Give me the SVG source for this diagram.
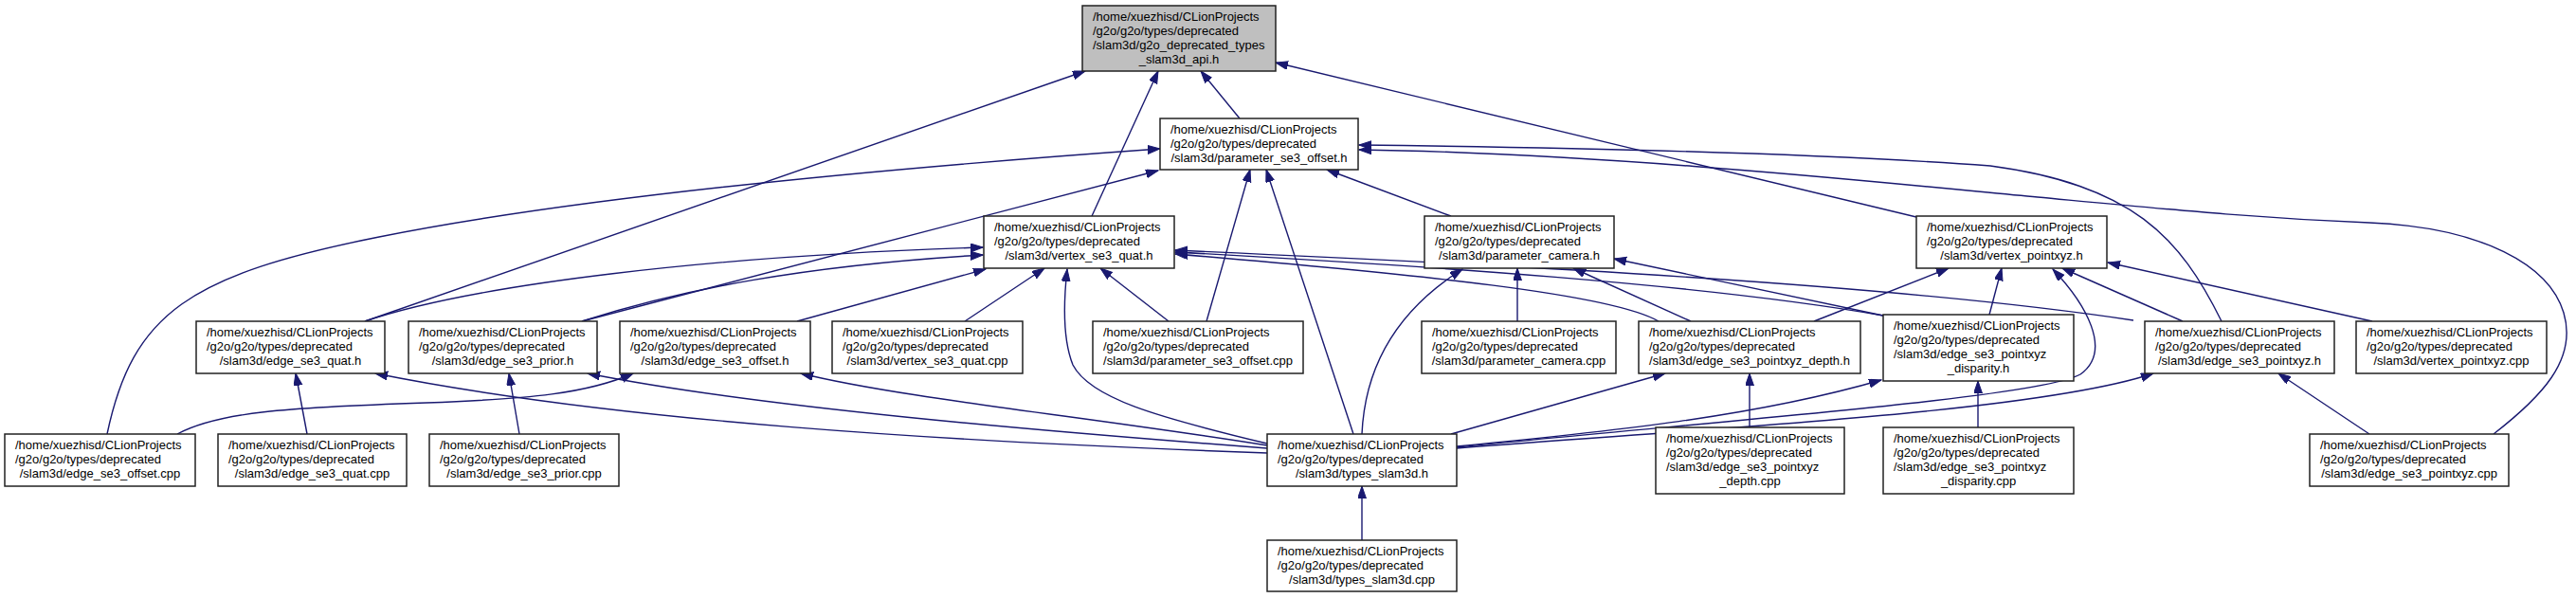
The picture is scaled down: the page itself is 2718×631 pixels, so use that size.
<svg xmlns="http://www.w3.org/2000/svg" width="2718" height="631" viewBox="0 0 2718 631">
<style>
.n rect{fill:#ffffff;stroke:#222222;stroke-width:1.5}
.n.root rect{fill:#bfbfbf}
.n text{font-family:"Liberation Sans",Arial,sans-serif;font-size:13px;fill:#000000}
#edges path{fill:none;stroke:#191970;stroke-width:1.4;marker-end:url(#ah)}
</style>
<defs>
<marker id="ah" markerUnits="userSpaceOnUse" markerWidth="14" markerHeight="10" refX="13" refY="4.5" orient="auto">
<path d="M0,0 L13,4.5 L0,9 Z" fill="#191970" stroke="#191970" stroke-width="1"/>
</marker>
</defs>
<rect x="0" y="0" width="2718" height="631" fill="#ffffff"/>
<g id="edges">
<path d="M385,339 L1145,75"/>
<path d="M1152,228 L1222,75"/>
<path d="M1308,125 L1267,75"/>
<path d="M2022,229 L1346,66"/>
<path d="M113,458 C140,330 200,290 400,250 S900,180 1224,157"/>
<path d="M614,339 L1222,180"/>
<path d="M1273,339 L1319,179"/>
<path d="M1428,458 L1336,179"/>
<path d="M1531,228 L1400,179"/>
<path d="M2344,339 C2300,250 2250,195 2100,175 C1900,160 1600,155 1434,153"/>
<path d="M2631,458 C2680,420 2720,380 2705,330 C2690,280 2620,240 2500,235 C2380,230 2300,222 2150,208 C2000,194 1700,162 1434,158"/>
<path d="M614,339 C720,305 850,280 1037,269"/>
<path d="M385,339 C500,300 750,270 1037,261"/>
<path d="M841,339 L1040,284"/>
<path d="M1018,339 L1102,283"/>
<path d="M1337,468 C1220,440 1150,420 1132,385 C1122,360 1122,320 1126,284"/>
<path d="M1233,339 L1161,283"/>
<path d="M1750,339 C1700,310 1500,290 1240,268"/>
<path d="M1987,333 C1800,300 1500,280 1240,266"/>
<path d="M2251,338 C2000,300 1600,280 1240,264"/>
<path d="M1437,458 C1440,390 1470,330 1543,284"/>
<path d="M1601,339 L1601,283"/>
<path d="M1784,339 L1660,283"/>
<path d="M1987,333 L1703,273"/>
<path d="M1914,339 L2056,283"/>
<path d="M2099,332 L2112,283"/>
<path d="M1537,472 C1800,445 2150,420 2195,395 C2230,370 2200,320 2166,284"/>
<path d="M2303,339 L2176,283"/>
<path d="M2503,339 L2224,277"/>
<path d="M2500,458 L2404,394"/>
<path d="M1531,458 L1757,394"/>
<path d="M1537,471 C1700,455 1850,440 1985,401"/>
<path d="M1537,473 C1800,452 2150,435 2272,394"/>
<path d="M1846,451 L1846,394"/>
<path d="M2087,451 L2087,402"/>
<path d="M1437,570 L1437,513"/>
<path d="M187,458 C230,435 300,430 450,425 C560,421 620,415 668,394"/>
<path d="M324,458 L312,394"/>
<path d="M548,458 L537,394"/>
<path d="M1337,478 C1000,466 650,445 396,394"/>
<path d="M1337,473 C1100,455 800,430 620,394"/>
<path d="M1337,470 C1150,440 950,420 845,394"/>
</g>
<g id="n0" class="n root"><rect x="1142" y="6" width="204" height="69"/><text><tspan x="1153" y="22">/home/xuezhisd/CLionProjects</tspan><tspan x="1153" y="37">/g2o/g2o/types/deprecated</tspan><tspan x="1153" y="52">/slam3d/g2o_deprecated_types</tspan><tspan x="1244" y="67" text-anchor="middle">_slam3d_api.h</tspan></text></g>
<g id="n1" class="n"><rect x="1224" y="125" width="209" height="54"/><text><tspan x="1235" y="141">/home/xuezhisd/CLionProjects</tspan><tspan x="1235" y="156">/g2o/g2o/types/deprecated</tspan><tspan x="1328.5" y="171" text-anchor="middle">/slam3d/parameter_se3_offset.h</tspan></text></g>
<g id="n2" class="n"><rect x="1038" y="228" width="201" height="55"/><text><tspan x="1049" y="244">/home/xuezhisd/CLionProjects</tspan><tspan x="1049" y="259">/g2o/g2o/types/deprecated</tspan><tspan x="1138.5" y="274" text-anchor="middle">/slam3d/vertex_se3_quat.h</tspan></text></g>
<g id="n3" class="n"><rect x="1503" y="228" width="200" height="55"/><text><tspan x="1514" y="244">/home/xuezhisd/CLionProjects</tspan><tspan x="1514" y="259">/g2o/g2o/types/deprecated</tspan><tspan x="1603" y="274" text-anchor="middle">/slam3d/parameter_camera.h</tspan></text></g>
<g id="n4" class="n"><rect x="2022" y="228" width="201" height="55"/><text><tspan x="2033" y="244">/home/xuezhisd/CLionProjects</tspan><tspan x="2033" y="259">/g2o/g2o/types/deprecated</tspan><tspan x="2122.5" y="274" text-anchor="middle">/slam3d/vertex_pointxyz.h</tspan></text></g>
<g id="n5" class="n"><rect x="207" y="339" width="199" height="55"/><text><tspan x="218" y="355">/home/xuezhisd/CLionProjects</tspan><tspan x="218" y="370">/g2o/g2o/types/deprecated</tspan><tspan x="306.5" y="385" text-anchor="middle">/slam3d/edge_se3_quat.h</tspan></text></g>
<g id="n6" class="n"><rect x="431" y="339" width="199" height="55"/><text><tspan x="442" y="355">/home/xuezhisd/CLionProjects</tspan><tspan x="442" y="370">/g2o/g2o/types/deprecated</tspan><tspan x="530.5" y="385" text-anchor="middle">/slam3d/edge_se3_prior.h</tspan></text></g>
<g id="n7" class="n"><rect x="654" y="339" width="201" height="55"/><text><tspan x="665" y="355">/home/xuezhisd/CLionProjects</tspan><tspan x="665" y="370">/g2o/g2o/types/deprecated</tspan><tspan x="754.5" y="385" text-anchor="middle">/slam3d/edge_se3_offset.h</tspan></text></g>
<g id="n8" class="n"><rect x="878" y="339" width="201" height="55"/><text><tspan x="889" y="355">/home/xuezhisd/CLionProjects</tspan><tspan x="889" y="370">/g2o/g2o/types/deprecated</tspan><tspan x="978.5" y="385" text-anchor="middle">/slam3d/vertex_se3_quat.cpp</tspan></text></g>
<g id="n9" class="n"><rect x="1153" y="339" width="222" height="55"/><text><tspan x="1164" y="355">/home/xuezhisd/CLionProjects</tspan><tspan x="1164" y="370">/g2o/g2o/types/deprecated</tspan><tspan x="1264" y="385" text-anchor="middle">/slam3d/parameter_se3_offset.cpp</tspan></text></g>
<g id="n10" class="n"><rect x="1500" y="339" width="205" height="55"/><text><tspan x="1511" y="355">/home/xuezhisd/CLionProjects</tspan><tspan x="1511" y="370">/g2o/g2o/types/deprecated</tspan><tspan x="1602.5" y="385" text-anchor="middle">/slam3d/parameter_camera.cpp</tspan></text></g>
<g id="n11" class="n"><rect x="1729" y="339" width="234" height="55"/><text><tspan x="1740" y="355">/home/xuezhisd/CLionProjects</tspan><tspan x="1740" y="370">/g2o/g2o/types/deprecated</tspan><tspan x="1846" y="385" text-anchor="middle">/slam3d/edge_se3_pointxyz_depth.h</tspan></text></g>
<g id="n12" class="n"><rect x="1987" y="332" width="201" height="70"/><text><tspan x="1998" y="348">/home/xuezhisd/CLionProjects</tspan><tspan x="1998" y="363">/g2o/g2o/types/deprecated</tspan><tspan x="1998" y="378">/slam3d/edge_se3_pointxyz</tspan><tspan x="2087.5" y="393" text-anchor="middle">_disparity.h</tspan></text></g>
<g id="n13" class="n"><rect x="2263" y="339" width="200" height="55"/><text><tspan x="2274" y="355">/home/xuezhisd/CLionProjects</tspan><tspan x="2274" y="370">/g2o/g2o/types/deprecated</tspan><tspan x="2363" y="385" text-anchor="middle">/slam3d/edge_se3_pointxyz.h</tspan></text></g>
<g id="n14" class="n"><rect x="2486" y="339" width="201" height="55"/><text><tspan x="2497" y="355">/home/xuezhisd/CLionProjects</tspan><tspan x="2497" y="370">/g2o/g2o/types/deprecated</tspan><tspan x="2586.5" y="385" text-anchor="middle">/slam3d/vertex_pointxyz.cpp</tspan></text></g>
<g id="n15" class="n"><rect x="5" y="458" width="201" height="55"/><text><tspan x="16" y="474">/home/xuezhisd/CLionProjects</tspan><tspan x="16" y="489">/g2o/g2o/types/deprecated</tspan><tspan x="105.5" y="504" text-anchor="middle">/slam3d/edge_se3_offset.cpp</tspan></text></g>
<g id="n16" class="n"><rect x="230" y="458" width="199" height="55"/><text><tspan x="241" y="474">/home/xuezhisd/CLionProjects</tspan><tspan x="241" y="489">/g2o/g2o/types/deprecated</tspan><tspan x="329.5" y="504" text-anchor="middle">/slam3d/edge_se3_quat.cpp</tspan></text></g>
<g id="n17" class="n"><rect x="453" y="458" width="200" height="55"/><text><tspan x="464" y="474">/home/xuezhisd/CLionProjects</tspan><tspan x="464" y="489">/g2o/g2o/types/deprecated</tspan><tspan x="553" y="504" text-anchor="middle">/slam3d/edge_se3_prior.cpp</tspan></text></g>
<g id="n18" class="n"><rect x="1337" y="458" width="200" height="55"/><text><tspan x="1348" y="474">/home/xuezhisd/CLionProjects</tspan><tspan x="1348" y="489">/g2o/g2o/types/deprecated</tspan><tspan x="1437" y="504" text-anchor="middle">/slam3d/types_slam3d.h</tspan></text></g>
<g id="n19" class="n"><rect x="1747" y="451" width="199" height="70"/><text><tspan x="1758" y="467">/home/xuezhisd/CLionProjects</tspan><tspan x="1758" y="482">/g2o/g2o/types/deprecated</tspan><tspan x="1758" y="497">/slam3d/edge_se3_pointxyz</tspan><tspan x="1846.5" y="512" text-anchor="middle">_depth.cpp</tspan></text></g>
<g id="n20" class="n"><rect x="1987" y="451" width="201" height="70"/><text><tspan x="1998" y="467">/home/xuezhisd/CLionProjects</tspan><tspan x="1998" y="482">/g2o/g2o/types/deprecated</tspan><tspan x="1998" y="497">/slam3d/edge_se3_pointxyz</tspan><tspan x="2087.5" y="512" text-anchor="middle">_disparity.cpp</tspan></text></g>
<g id="n21" class="n"><rect x="2437" y="458" width="210" height="55"/><text><tspan x="2448" y="474">/home/xuezhisd/CLionProjects</tspan><tspan x="2448" y="489">/g2o/g2o/types/deprecated</tspan><tspan x="2542" y="504" text-anchor="middle">/slam3d/edge_se3_pointxyz.cpp</tspan></text></g>
<g id="n22" class="n"><rect x="1337" y="570" width="200" height="54"/><text><tspan x="1348" y="586">/home/xuezhisd/CLionProjects</tspan><tspan x="1348" y="601">/g2o/g2o/types/deprecated</tspan><tspan x="1437" y="616" text-anchor="middle">/slam3d/types_slam3d.cpp</tspan></text></g>
</svg>
